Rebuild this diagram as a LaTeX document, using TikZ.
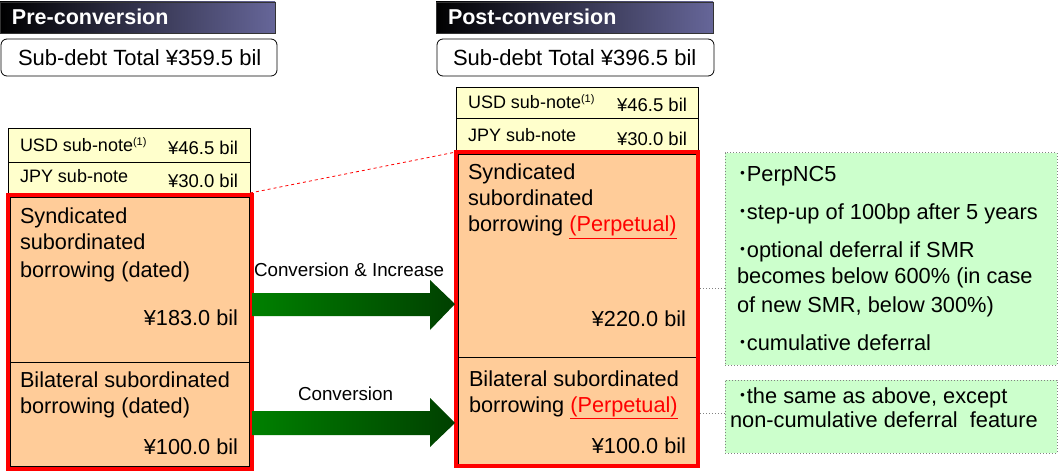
\documentclass[tikz,border=0pt]{standalone}
\usepackage{fontspec}
\setmainfont{Liberation Sans}
\newfontfamily\cjkfont{Noto Sans CJK JP}
\definecolor{orfill}{RGB}{255,204,153}
\definecolor{yefill}{RGB}{255,255,204}
\definecolor{grfill}{RGB}{204,255,204}
\definecolor{hdright}{RGB}{102,102,153}
\definecolor{hdmid}{RGB}{62,62,108}
\definecolor{arlight}{RGB}{0,128,0}
\definecolor{armid}{RGB}{0,118,0}
\definecolor{ardark}{RGB}{0,64,0}
\definecolor{dotgray}{RGB}{130,130,130}
\newcommand\bul{{\cjkfont ･}\kern-1pt}
\newcommand\supone{{\fontsize{11}{11}\selectfont\raisebox{6.5pt}{(1)}}}
\newcommand\perpword{\textcolor{red}{\underline{(Perpetual)}}}
\newcommand\bx[6]{\node[#6, minimum width={(#4-#2)*1pt}, minimum height={(#5-#3)*1pt}] (#1) at ({(#2+#4)/2},{(#3+#5)/2}) {};}
\begin{document}
\begin{tikzpicture}[x=1pt,y=-1pt,
  every node/.style={inner sep=0pt, outer sep=0pt},
  hdbar/.style={rectangle, draw=black!80, line width=0.6pt, left color=black, middle color=hdmid, right color=hdright},
  totbox/.style={rectangle, draw=black, line width=0.8pt, rounded corners=6pt, fill=white},
  ylbox/.style={rectangle, draw=black, line width=0.8pt, fill=yefill},
  orbox/.style={rectangle, draw=black, line width=0.8pt, fill=orfill},
  redbox/.style={rectangle, draw=red, line width=4pt},
  shadowbox/.style={rectangle, fill=black!45},
  grbox/.style={rectangle, draw=dotgray, dotted, line width=1pt, fill=grfill},
  hdtxt/.style={anchor=base west, text=white, font=\fontsize{21.5}{25}\selectfont\bfseries},
  tottxt/.style={anchor=base west, font=\fontsize{22}{25}\selectfont},
  txt/.style={anchor=base west, font=\fontsize{21.7}{25}\selectfont},
  txtr/.style={anchor=base east, font=\fontsize{21.7}{25}\selectfont},
  smtxt/.style={anchor=base west, font=\fontsize{18}{22}\selectfont},
  smtxtr/.style={anchor=base east, font=\fontsize{18.5}{22}\selectfont},
  grtxt/.style={anchor=base west, font=\fontsize{21.8}{26}\selectfont},
  lbltxt/.style={anchor=base west, font=\fontsize{18.8}{22}\selectfont},
  arshade/.style={left color=arlight, middle color=armid, right color=ardark},
  conn/.style={draw=dotgray, dotted, line width=1pt}
]
\useasboundingbox (0,0) rectangle (1060,473);

% headers
\bx{hdL}{0}{2}{275}{33}{hdbar}
\node[hdtxt] (hdLt) at (12,25) {Pre-conversion};
\bx{hdR}{436}{2}{713}{33}{hdbar}
\node[hdtxt] (hdRt) at (448,25) {Post-conversion};

% totals
\bx{totL}{1}{39}{277}{76}{totbox}
\node[tottxt] (totLt) at (18,66) {Sub-debt Total ¥359.5 bil};
\bx{totR}{437}{39}{714}{76}{totbox}
\node[tottxt] (totRt) at (453,66) {Sub-debt Total ¥396.5 bil};

% left yellow boxes
\bx{lusd}{8}{128}{250}{162}{ylbox}
\bx{ljpy}{8}{162}{250}{193}{ylbox}
\node[smtxt] (lusdt) at (20,152) {USD sub-note\supone};
\node[smtxtr] (lusda) at (238,155) {¥46.5 bil};
\node[smtxt] (ljpyt) at (20,183) {JPY sub-note};
\node[smtxtr] (ljpya) at (238,188) {¥30.0 bil};

% right yellow boxes
\bx{rusd}{456}{87}{698}{118}{ylbox}
\bx{rjpy}{456}{118}{698}{152}{ylbox}
\node[smtxt] (rusdt) at (468,109) {USD sub-note\supone};
\node[smtxtr] (rusda) at (687,112) {¥46.5 bil};
\node[smtxt] (rjpyt) at (468,142) {JPY sub-note};
\node[smtxtr] (rjpya) at (687,146) {¥30.0 bil};

% left orange boxes
\bx{lshadow}{10}{197}{253}{470}{shadowbox}
\bx{lsyn}{10}{197}{249}{362}{orbox}
\bx{lbil}{10}{362}{249}{466}{orbox}
\bx{lred}{7.5}{195}{251.5}{468.5}{redbox}
\node[txt] (lsyn1) at (20,223) {Syndicated};
\node[txt] (lsyn2) at (20,250) {subordinated};
\node[txt] (lsyn3) at (20,277) {borrowing (dated)};
\node[txtr] (lsyna) at (238,325) {¥183.0 bil};
\node[txt] (lbil1) at (20,387) {Bilateral subordinated};
\node[txt] (lbil2) at (20,413) {borrowing (dated)};
\node[txtr] (lbila) at (238,454) {¥100.0 bil};

% right orange boxes
\bx{rshadow}{458}{154}{700}{468}{shadowbox}
\bx{rsyn}{458}{154}{696}{357}{orbox}
\bx{rbil}{458}{357}{696}{464}{orbox}
\bx{rred}{456}{152}{698}{466}{redbox}
\node[txt] (rsyn1) at (468,180) {Syndicated};
\node[txt] (rsyn2) at (468,206) {subordinated};
\node[txt] (rsyn3) at (468,232) {borrowing \perpword};
\node[txtr] (rsyna) at (686,326) {¥220.0 bil};
\node[txt] (rbil1) at (469,386) {Bilateral subordinated};
\node[txt] (rbil2) at (469,412) {borrowing \perpword};
\node[txtr] (rbila) at (686,453) {¥100.0 bil};

% red dashed link
\draw[red, dashed, line width=0.8pt] (ljpy.south east) -- (rred.north west);

% arrows
\shade[arshade] (252,293) -- (430,293) -- (430,280) -- (455,304) -- (430,330) -- (430,316) -- (252,316) -- cycle;
\node[lbltxt] (lbl1) at (254,276) {Conversion \& Increase};
\shade[arshade] (252,411) -- (430,411) -- (430,398) -- (455,423) -- (430,447) -- (430,435) -- (252,435) -- cycle;
\node[lbltxt] (lbl2) at (298,400) {Conversion};

% green boxes
\bx{g1}{725}{153}{1057}{365}{grbox}
\node[grtxt] (g1a) at (737,182) {\bul PerpNC5};
\node[grtxt] (g1b) at (737,220) {\bul step-up of 100bp after 5 years};
\node[grtxt] (g1c) at (737,257) {\bul optional deferral if SMR};
\node[grtxt] (g1d) at (737,283) {becomes below 600\% (in case};
\node[grtxt] (g1e) at (737,312) {of new SMR, below 300\%)};
\node[grtxt] (g1f) at (737,350) {\bul cumulative deferral};
\bx{g2}{725}{380}{1057}{453}{grbox}
\node[grtxt] (g2a) at (737,403) {\bul the same as above, except};
\node[grtxt] (g2b) at (730,427) {non-cumulative deferral\ \ feature};

% dotted connectors
\coordinate (c1) at (700,288);
\coordinate (c2) at (700,413);
\draw[conn] (c1) -- (g1.west |- c1);
\draw[conn] (c2) -- (g2.west |- c2);
\end{tikzpicture}
\end{document}
